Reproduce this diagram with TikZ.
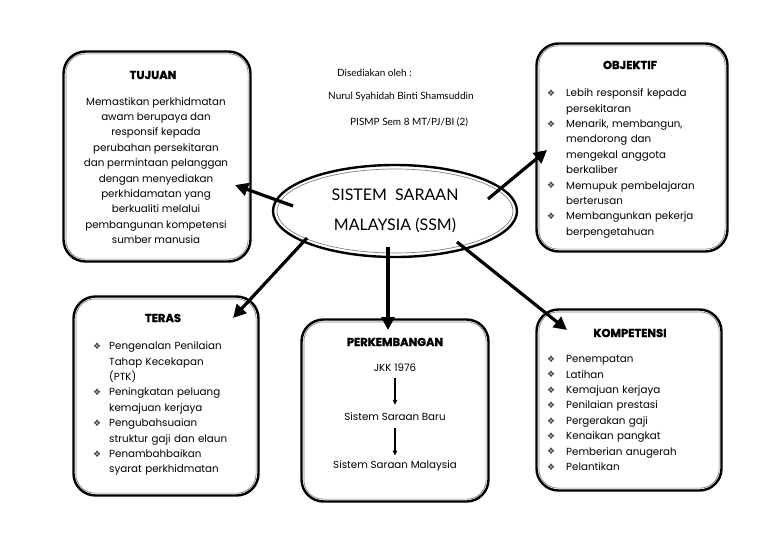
\documentclass[tikz,border=0pt]{standalone}
\usepackage{fontspec}
\setmainfont{Poppins}
\newfontfamily\headfont{Lato}
\newfontfamily\titlefont{Poppins}[BoldFeatures={FakeBold=1.5}]
\newfontfamily\symfont{DejaVu Sans}
\usetikzlibrary{shapes.geometric,arrows.meta}
\newlength\bind
\setlength\bind{19pt}
\newcommand\bul{{\symfont\fontsize{9}{9}\selectfont\color{black!75}\raisebox{0.2pt}{❖}}}
\newcommand\bitem[1]{\par\noindent\hangindent=\bind\hangafter=1\makebox[\bind][l]{\bul}#1}
\newcommand\innerframe[1]{\draw[innerline] ([shift={(3.6,3.6)}]#1.north west) rectangle ([shift={(-3.6,-3.6)}]#1.south east);}
\begin{document}
\begin{tikzpicture}[x=1pt,y=-1pt,
  box/.style={draw, line width=2.4pt, rounded corners=22pt, inner sep=0pt},
  innerline/.style={draw=black!50, line width=0.7pt, rounded corners=19pt},
  title/.style={font=\titlefont\fontsize{11.5}{13}\selectfont\bfseries, inner sep=0pt},
  body/.style={font=\fontsize{10.3}{15.4}\selectfont, inner sep=0pt},
  list/.style={body, text width=172pt, anchor=north west},
  header/.style={font=\headfont\fontsize{10}{12}\selectfont, inner sep=0pt, anchor=west},
  bigarrow/.style={line width=3.2pt, -{Triangle[length=13pt,width=13pt]}},
  smallarrow/.style={line width=1.1pt, -{Triangle[length=5pt,width=4.5pt]}}]
\useasboundingbox[fill=white] (0,0) rectangle (768,543);

% boxes
\node[box, minimum width=187pt, minimum height=210pt] (tujuan) at (157,156.5) {};
\node[box, minimum width=191pt, minimum height=208pt] (objektif) at (632,147.5) {};
\node[box, minimum width=185pt, minimum height=199pt] (teras) at (166,396) {};
\node[box, minimum width=187pt, minimum height=182pt] (perk) at (395,410.5) {};
\node[box, minimum width=185pt, minimum height=181pt] (komp) at (629,400) {};
\innerframe{tujuan}
\innerframe{objektif}
\innerframe{teras}
\innerframe{perk}
\innerframe{komp}

% central ellipse
\node[ellipse, draw, line width=2.4pt, minimum width=244pt, minimum height=92pt, inner sep=0pt,
  align=center, font=\headfont\fontsize{16}{30}\selectfont] (ssm) at (395,211) {SISTEM \ SARAAN\\MALAYSIA (SSM)};
\draw[draw=black!50, line width=0.7pt] (ssm.center) ellipse [x radius=118pt, y radius=42pt];

% header
\node[header] (h1) at (337,73) {Disediakan oleh :};
\node[header] (h2) at (328,97) {Nurul Syahidah Binti Shamsuddin};
\node[header] (h3) at (350,122) {PISMP Sem 8 MT/PJ/BI (2)};

% titles
\node[title] (tujuanT) at (153,75) {TUJUAN};
\node[title] (objektifT) at (630,65) {OBJEKTIF};
\node[title] (terasT) at (163,318) {TERAS};
\node[title] (perkT) at (395,342) {PERKEMBANGAN};
\node[title] (kompT) at (630,333) {KOMPETENSI};

% texts
\node[body, align=center, anchor=north] (tujuanB) at (156,97) {Memastikan perkhidmatan\\awam berupaya dan\\responsif kepada\\perubahan persekitaran\\dan permintaan pelanggan\\dengan menyediakan\\perkhidamatan yang\\berkualiti melalui\\pembangunan kompetensi\\sumber manusia};

\node[list] (objektifB) at (547,81) {\raggedright
\bitem{Lebih responsif kepada\newline persekitaran}%
\bitem{Menarik, membangun,\newline mendorong dan\newline mengekal anggota\newline berkaliber}%
\bitem{Memupuk pembelajaran\newline berterusan}%
\bitem{Membangunkan pekerja\newline berpengetahuan}\par};

\node[list] (terasB) at (93,334) {\raggedright\setlength\bind{16pt}%
\bitem{Pengenalan Penilaian\newline Tahap Kecekapan\newline (PTK)}%
\bitem{Peningkatan peluang\newline kemajuan kerjaya}%
\bitem{Pengubahsuaian\newline struktur gaji dan elaun}%
\bitem{Penambahbaikan\newline syarat perkhidmatan}\par};

\node[list] (kompB) at (547,347) {\raggedright
\bitem{Penempatan}%
\bitem{Latihan}%
\bitem{Kemajuan kerjaya}%
\bitem{Penilaian prestasi}%
\bitem{Pergerakan gaji}%
\bitem{Kenaikan pangkat}%
\bitem{Pemberian anugerah}%
\bitem{Pelantikan}\par};

\node[body] (jkk) at (395,368) {JKK 1976};
\node[body] (baru) at (395,417) {Sistem Saraan Baru};
\node[body] (malay) at (395,466) {Sistem Saraan Malaysia};
\draw[smallarrow] ([yshift=-6pt]jkk.south) -- ([yshift=8pt]baru.north);
\draw[smallarrow] ([yshift=-7pt]baru.south) -- ([yshift=5pt]malay.north);

% big arrows
\coordinate (s1) at (293,206); \coordinate (e1) at (235,185);
\coordinate (s2) at (488,199); \coordinate (e2) at (547,150);
\coordinate (s3) at (307,238); \coordinate (e3) at (233,318);
\coordinate (s4) at (388,247); \coordinate (e4) at (388,330);
\coordinate (s5) at (457,242); \coordinate (e5) at (567,330);
\draw[bigarrow] (s1) -- (e1);
\draw[bigarrow] (s2) -- (e2);
\draw[bigarrow] (s3) -- (e3);
\draw[bigarrow] (s4) -- (e4);
\draw[bigarrow] (s5) -- (e5);
\end{tikzpicture}
\end{document}
